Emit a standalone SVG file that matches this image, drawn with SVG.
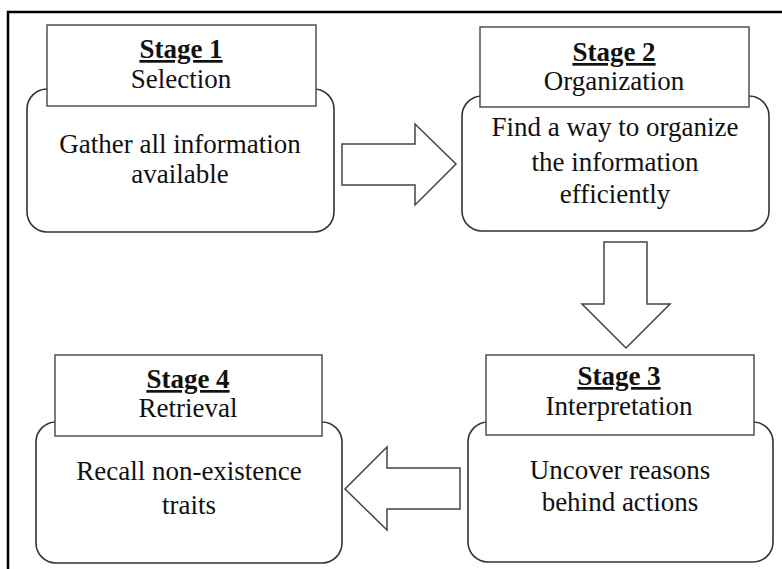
<svg xmlns="http://www.w3.org/2000/svg" width="782" height="569" viewBox="0 0 782 569">
<style>
.frame{fill:none;stroke:#000;stroke-width:2.5}
.body{fill:#fff;stroke:#333;stroke-width:1.6}
.head{fill:#fff;stroke:#444;stroke-width:1.4}
.arrow{fill:#fff;stroke:#444;stroke-width:1.5;stroke-linejoin:miter}
text{font-family:"Liberation Serif","Times New Roman",serif;font-size:27px;fill:#111;text-anchor:middle}
.title{font-weight:bold;text-decoration:underline}
</style>
<rect width="782" height="569" fill="#fff"/>
<rect class="frame" x="8" y="12" width="790" height="570"/>
<g id="connectors">
<polygon class="arrow" points="342,144 415,144 415,124 456,164 415,205 415,185 342,185"/>
<polygon class="arrow" points="604,242 647,242 647,304 670,304 626,348 582,304 604,304"/>
<polygon class="arrow" points="460,468 387,468 387,447 345,489 387,530 387,509 460,509"/>
</g>
<g id="stage1">
<rect class="body" x="27" y="89" width="307" height="143" rx="20"/>
<rect class="head" x="47" y="25" width="269" height="81"/>
<text class="title" x="181" y="58">Stage 1</text>
<text x="181" y="88">Selection</text>
<text x="180" y="153">Gather all information</text>
<text x="180" y="183">available</text>
</g>
<g id="stage2">
<rect class="body" x="462" y="96" width="307" height="135" rx="20"/>
<rect class="head" x="480" y="27" width="269" height="80"/>
<text class="title" x="614" y="61">Stage 2</text>
<text x="614" y="90">Organization</text>
<text x="615" y="136">Find a way to organize</text>
<text x="615" y="171">the information</text>
<text x="615" y="203">efficiently</text>
</g>
<g id="stage3">
<rect class="body" x="468" y="422" width="305" height="140" rx="20"/>
<rect class="head" x="486" y="355" width="268" height="80"/>
<text class="title" x="619" y="385">Stage 3</text>
<text x="619" y="415">Interpretation</text>
<text x="620" y="479">Uncover reasons</text>
<text x="620" y="511">behind actions</text>
</g>
<g id="stage4">
<rect class="body" x="36" y="422" width="306" height="141" rx="20"/>
<rect class="head" x="55" y="355" width="267" height="81"/>
<text class="title" x="188" y="388">Stage 4</text>
<text x="188" y="417">Retrieval</text>
<text x="189" y="480">Recall non-existence</text>
<text x="189" y="514">traits</text>
</g>
</svg>
